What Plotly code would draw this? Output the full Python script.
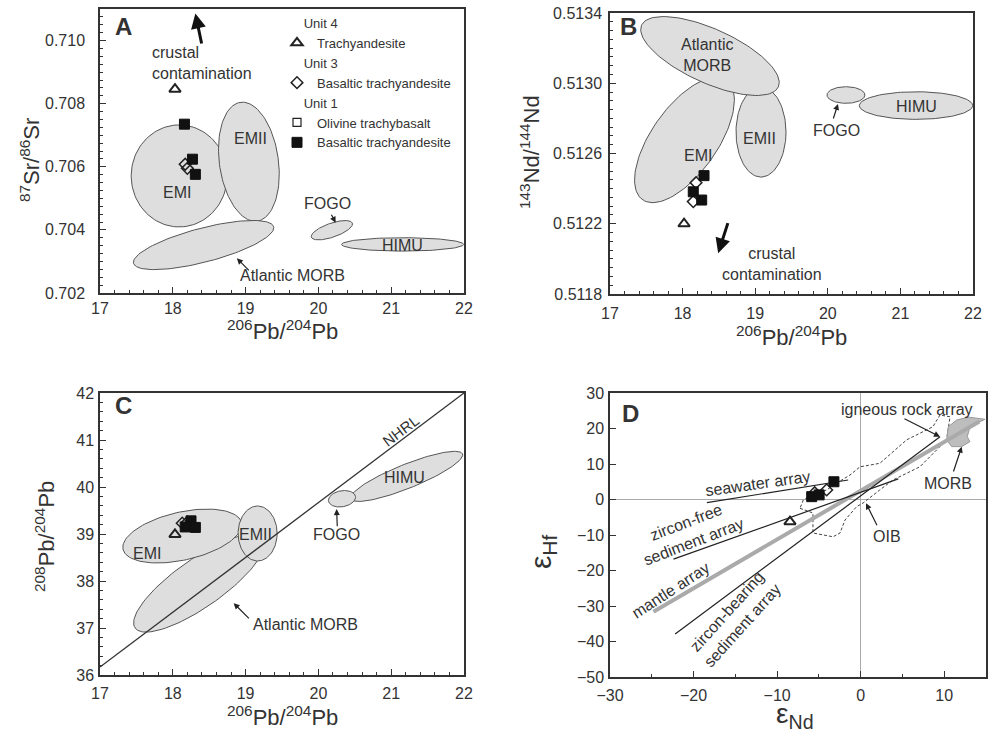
import numpy as np
import plotly.graph_objects as go

W, H = 993, 735
FONT = "Liberation Sans, Arial, sans-serif"
TXT = "#333333"
FILL = "#dedede"
EDGE = "#555555"

# ---------------- data ----------------
# Panel A: 87Sr/86Sr vs 206Pb/204Pb
a_tri_x = [18.03]
a_tri_y = [0.70846]
a_dia_x = [18.17, 18.20]
a_dia_y = [0.70608, 0.70595]
a_osq_x = [None]
a_osq_y = [None]
a_sq_x = [18.16, 18.27, 18.31]
a_sq_y = [0.70735, 0.70624, 0.70576]

# Panel B: 143Nd/144Nd vs 206Pb/204Pb
b_tri_x = [18.02]
b_tri_y = [0.51220]
b_dia_x = [18.185, 18.147]
b_dia_y = [0.512434, 0.512326]
b_sq_x = [18.295, 18.147, 18.263]
b_sq_y = [0.512474, 0.512382, 0.512335]

# Panel C: 208Pb/204Pb vs 206Pb/204Pb
c_tri_x = [18.03]
c_tri_y = [38.99]
c_dia_x = [18.13, 18.20]
c_dia_y = [39.23, 39.25]
c_sq_x = [18.25, 18.17, 18.31]
c_sq_y = [39.28, 39.15, 39.14]
nhrl_x = [17.0, 22.0]
nhrl_y = [36.17, 42.0]

# Panel D: eHf vs eNd
d_tri_x = [-8.46]
d_tri_y = [-6.25]
d_dia_x = [-4.07, -5.5]
d_dia_y = [2.7, 1.9]
d_sq_x = [-3.2, -5.86, -4.97]
d_sq_y = [5.0, 0.8, 1.3]
seawater_x = [-18.4, -1.5]
seawater_y = [-0.9, 5.5]
zfree_x = [-22.4, 4.5]
zfree_y = [-16.8, 5.8]
zbear_x = [-22.2, 9.5]
zbear_y = [-37.9, 17.7]
mantle_x = [-24.8, 14.2]
mantle_y = [-31.6, 22.0]
oib_x = [-7.26, -5.71, -5.71, -3.31, -2.47, -1.88, -0.48, 0.28, 2.28, 3.87, 7.1, 9.49, 10.3,
         10.7, 9.49, 8.65, 5.5, 2.3, -0.08, -1.28, -2.87, -4.07, -5.67, -6.87, -7.26]
oib_y = [-2.48, -3.8, -9.44, -10.5, -9.44, -5.8, -2.0, -1.0, 2.68, 5.5, 9.24, 14.9, 17.2,
         23.3, 23.8, 20.5, 16.8, 10.2, 9.2, 6.9, 4.6, 2.7, 1.27, -0.14, -2.48]
morb_x = [10.49, 11.49, 12.88, 14.28, 14.88, 13.08, 12.76, 13.08, 12.09, 10.89, 10.29, 10.49]
morb_y = [20.5, 22.4, 23.2, 22.9, 22.6, 20.5, 17.7, 16.3, 14.9, 14.9, 16.8, 20.5]

# Reference fields: centre (data), semi-axes (screen px), rotation (deg)
a_field_cx = [18.088, 19.045, 18.423, 20.185, 21.156]
a_field_cy = [0.70571, 0.70616, 0.70352, 0.70399, 0.70354]
a_field_rx = [48, 29.5, 72.4, 21.7, 61]
a_field_ry = [51, 60, 17, 7, 6.7]
a_field_rot = [0, 8, 14.6, 18.9, 0]

b_field_cx = [19.08, 18.026, 18.377, 20.25, 21.215]
b_field_cy = [0.512722, 0.512677, 0.513155, 0.512933, 0.512873]
b_field_rx = [25, 73, 75, 19, 56.7]
b_field_ry = [45, 33, 27, 8.3, 13.8]
b_field_rot = [0, 54.9, -24.3, 0, 0]

c_field_cx = [18.364, 18.13, 19.165, 21.212, 20.324]
c_field_cy = [37.957, 38.957, 39.011, 40.226, 39.75]
c_field_rx = [78.4, 60.7, 19.5, 60.2, 13.7]
c_field_ry = [24, 24, 27.5, 12, 8]
c_field_rot = [35, 12.7, 0, 21.9, 10]

# ---------------- layout geometry ----------------
P = {
    "A": dict(xp=(100, 464), yp=(9, 293), xr=[17, 22], yr=[0.702, 0.711], xa="x", ya="y"),
    "B": dict(xp=(610, 973), yp=(13, 294), xr=[17, 22], yr=[0.5118, 0.5134], xa="x2", ya="y2"),
    "C": dict(xp=(100, 464), yp=(393, 675), xr=[17, 22], yr=[36, 42], xa="x3", ya="y3"),
    "D": dict(xp=(610, 986), yp=(393, 677), xr=[-30, 15], yr=[-50, 30], xa="x4", ya="y4"),
}


def ppu(p):
    g = P[p]
    return ((g["xp"][1] - g["xp"][0]) / (g["xr"][1] - g["xr"][0]),
            (g["yp"][1] - g["yp"][0]) / (g["yr"][1] - g["yr"][0]))


def ellipse(p, cx, cy, rx, ry, rot):
    kx, ky = ppu(p)
    t = np.linspace(0, 2 * np.pi, 120)
    r = np.radians(rot)
    ex, ey = rx * np.cos(t), ry * np.sin(t)
    X = ex * np.cos(r) - ey * np.sin(r)
    Y = ex * np.sin(r) + ey * np.cos(r)
    return cx + X / kx, cy + Y / ky


fig = go.Figure()


def add_fields(p, cxs, cys, rxs, rys, rots):
    g = P[p]
    for cx, cy, rx, ry, rot in zip(cxs, cys, rxs, rys, rots):
        ex, ey = ellipse(p, cx, cy, rx, ry, rot)
        fig.add_trace(go.Scatter(x=ex, y=ey, mode="lines", fill="toself", fillcolor=FILL,
                                 line=dict(color=EDGE, width=1), hoverinfo="skip",
                                 showlegend=False, xaxis=g["xa"], yaxis=g["ya"]))


SP = "&nbsp;" * 6


def add_points(p, tx, ty, dx, dy, sx, sy, legend=False):
    g = P[p]
    fig.add_trace(go.Scatter(x=tx, y=ty, mode="markers", name="Trachyandesite",
                             marker=dict(symbol="triangle-up-open", size=10, color="#222",
                                         line=dict(width=2, color="#222")),
                             legendgroup="u4", legendgrouptitle_text=SP + "Unit 4",
                             showlegend=legend, xaxis=g["xa"], yaxis=g["ya"]))
    fig.add_trace(go.Scatter(x=dx, y=dy, mode="markers", name="Basaltic trachyandesite",
                             marker=dict(symbol="diamond-open", size=9, color="#222",
                                         line=dict(width=1.5, color="#222")),
                             legendgroup="u3", legendgrouptitle_text=SP + "Unit 3",
                             showlegend=legend, xaxis=g["xa"], yaxis=g["ya"]))
    if legend:
        fig.add_trace(go.Scatter(x=a_osq_x, y=a_osq_y, mode="markers", name="Olivine trachybasalt",
                                 marker=dict(symbol="square-open", size=8, color="#222",
                                             line=dict(width=1.2, color="#222")),
                                 legendgroup="u1", legendgrouptitle_text=SP + "Unit 1",
                                 showlegend=True, xaxis=g["xa"], yaxis=g["ya"]))
    fig.add_trace(go.Scatter(x=sx, y=sy, mode="markers", name="Basaltic trachyandesite",
                             marker=dict(symbol="square", size=10, color="#111",
                                         line=dict(width=1, color="#111")),
                             legendgroup="u1", legendgrouptitle_text=SP + "Unit 1", showlegend=legend,
                             xaxis=g["xa"], yaxis=g["ya"]))


# Panel A
add_fields("A", a_field_cx, a_field_cy, a_field_rx, a_field_ry, a_field_rot)
add_points("A", a_tri_x, a_tri_y, a_dia_x, a_dia_y, a_sq_x, a_sq_y, legend=True)
# Panel B
add_fields("B", b_field_cx, b_field_cy, b_field_rx, b_field_ry, b_field_rot)
add_points("B", b_tri_x, b_tri_y, b_dia_x, b_dia_y, b_sq_x, b_sq_y)
# Panel C
add_fields("C", c_field_cx, c_field_cy, c_field_rx, c_field_ry, c_field_rot)
fig.add_trace(go.Scatter(x=nhrl_x, y=nhrl_y, mode="lines", line=dict(color="#333", width=1.3),
                         hoverinfo="skip", showlegend=False, xaxis="x3", yaxis="y3"))
add_points("C", c_tri_x, c_tri_y, c_dia_x, c_dia_y, c_sq_x, c_sq_y)
# Panel D
fig.add_trace(go.Scatter(x=oib_x, y=oib_y, mode="lines", line=dict(color="#444", width=1, dash="3px,2px"),
                         hoverinfo="skip", showlegend=False, xaxis="x4", yaxis="y4"))
fig.add_trace(go.Scatter(x=morb_x, y=morb_y, mode="lines", fill="toself", fillcolor="#bdbdbd",
                         line=dict(color="#999", width=1), hoverinfo="skip", showlegend=False,
                         xaxis="x4", yaxis="y4"))
fig.add_trace(go.Scatter(x=mantle_x, y=mantle_y, mode="lines", line=dict(color="#aaaaaa", width=4),
                         hoverinfo="skip", showlegend=False, xaxis="x4", yaxis="y4"))
for lx, ly in [(seawater_x, seawater_y), (zfree_x, zfree_y), (zbear_x, zbear_y)]:
    fig.add_trace(go.Scatter(x=lx, y=ly, mode="lines", line=dict(color="#222", width=1.2),
                             hoverinfo="skip", showlegend=False, xaxis="x4", yaxis="y4"))
add_points("D", d_tri_x, d_tri_y, d_dia_x, d_dia_y, d_sq_x, d_sq_y)

# ---------------- axes ----------------
AX = dict(showline=True, linecolor="#333", linewidth=1.5, mirror=True, ticks="inside",
          ticklen=6, tickwidth=1.2, tickcolor="#333", showgrid=False, zeroline=False,
          automargin=False, tickfont=dict(size=16, color=TXT, family=FONT))


def xdom(p):
    return [P[p]["xp"][0] / W, P[p]["xp"][1] / W]


def ydom(p):
    return [1 - P[p]["yp"][1] / H, 1 - P[p]["yp"][0] / H]


lay = {}
spec = {
    "A": dict(xd=1, x0=17, xm=0.2, yd=0.002, y0=0.702, ym=0.00025, yf=".3f", ys=10, xs=0),
    "B": dict(xd=1, x0=17, xm=0.2, yd=0.0004, y0=0.5118, ym=0.00005, yf=".4f", ys=3, xs=4),
    "C": dict(xd=1, x0=17, xm=0.2, yd=1, y0=36, ym=0.2, yf="d", ys=1, xs=3),
    "D": dict(xd=10, x0=-30, xm=5, yd=10, y0=-50, ym=None, yf="d", ys=1, xs=3),
}
for i, p in enumerate("ABCD"):
    s = spec[p]
    suf = "" if i == 0 else str(i + 1)
    xa = dict(AX, domain=xdom(p), range=P[p]["xr"], anchor="y" + suf, dtick=s["xd"], tick0=s["x0"],
              ticklabelstandoff=s["xs"],
              minor=dict(dtick=s["xm"], ticks="inside", ticklen=3, tickcolor="#333", showgrid=False))
    ya = dict(AX, domain=ydom(p), range=P[p]["yr"], anchor="x" + suf, dtick=s["yd"], tick0=s["y0"],
              tickformat=s["yf"], ticklabelstandoff=s["ys"])
    if s["ym"]:
        ya["minor"] = dict(dtick=s["ym"], ticks="inside", ticklen=3, tickcolor="#333", showgrid=False)
    if p == "D":
        xa.update(zeroline=True, zerolinecolor="#aaa", zerolinewidth=1)
        ya.update(zeroline=True, zerolinecolor="#aaa", zerolinewidth=1)
    lay["xaxis" + suf] = xa
    lay["yaxis" + suf] = ya

# ---------------- annotations ----------------
ann = []


def txt(p, x, y, t, size=16, angle=0, align="center", xanchor="center", bold=False):
    g = P[p]
    ann.append(dict(x=x, y=y, xref=g["xa"], yref=g["ya"], text=("<b>%s</b>" % t) if bold else t,
                    showarrow=False, textangle=angle, align=align, xanchor=xanchor, yanchor="middle",
                    font=dict(size=size, color=TXT, family=FONT)))


def arrow(p, x, y, ax, ay, width=1.2, head=2, size=1.0, color="#222"):
    g = P[p]
    ann.append(dict(x=x, y=y, ax=ax, ay=ay, xref=g["xa"], yref=g["ya"], axref=g["xa"], ayref=g["ya"],
                    text="", showarrow=True, arrowhead=head, arrowwidth=width, arrowsize=size,
                    arrowcolor=color))


def ptxt(px, py, t, size=22, angle=0):
    ann.append(dict(x=px / W, y=1 - py / H, xref="paper", yref="paper", text=t, showarrow=False,
                    xanchor="center", yanchor="middle",
                    textangle=angle, font=dict(size=size, color=TXT, family=FONT)))


# Panel A
txt("A", 17.32, 0.71043, "A", size=24, bold=True)
txt("A", 17.69, 0.70930, "crustal<br>contamination", align="left", xanchor="left")
arrow("A", 18.31, 0.71086, 18.40, 0.70986, width=3, head=2, size=1.0, color="#111")
txt("A", 18.056, 0.70517, "EMI")
txt("A", 19.066, 0.70691, "EMII")
txt("A", 20.123, 0.70484, "FOGO")
arrow("A", 20.237, 0.70423, 20.168, 0.70453)
txt("A", 21.154, 0.70350, "HIMU")
txt("A", 19.64, 0.70254, "Atlantic MORB")
arrow("A", 18.88, 0.70310, 19.066, 0.70267)
# Panel B
txt("B", 17.25, 0.513322, "B", size=24, bold=True)
txt("B", 18.33, 0.513161, "Atlantic<br>MORB")
txt("B", 18.216, 0.512591, "EMI")
txt("B", 19.066, 0.512688, "EMII")
txt("B", 20.123, 0.51273, "FOGO")
arrow("B", 20.14, 0.512882, 20.07, 0.512791)
txt("B", 21.224, 0.51287, "HIMU")
txt("B", 19.227, 0.511969, "crustal<br>contamination")
arrow("B", 18.49, 0.512032, 18.63, 0.512212, width=3, head=2, size=1.0, color="#111")
# Panel C
txt("C", 17.32, 41.74, "C", size=24, bold=True)
txt("C", 21.13, 41.21, "NHRL", size=15, angle=-37)
txt("C", 17.643, 38.578, "EMI")
txt("C", 19.135, 38.994, "EMII")
txt("C", 20.25, 38.994, "FOGO")
arrow("C", 20.25, 39.53, 20.26, 39.135)
txt("C", 21.18, 40.207, "HIMU")
txt("C", 19.824, 37.065, "Atlantic MORB")
arrow("C", 18.836, 37.528, 19.066, 37.172)
# Panel D
txt("D", -27.6, 24.3, "D", size=24, bold=True)
txt("D", -12.25, 4.37, "seawater array", angle=-8)
txt("D", -20.4, -9.2, "zircon-free<br>sediment array", angle=-21)
txt("D", -22.8, -25.5, "mantle array", angle=-33)
txt("D", -15.0, -33.5, "zircon-bearing<br>sediment array", angle=-48)
txt("D", 5.5, 25.4, "igneous rock array")
arrow("D", 9.49, 17.7, 5.06, 22.96)
txt("D", 10.49, 4.56, "MORB")
arrow("D", 12.09, 14.87, 11.05, 7.46)
txt("D", 3.1, -10.5, "OIB")
arrow("D", 0.64, -1.07, 2.04, -7.66)

# axis titles
ptxt(30, 160, "<sup>87</sup>Sr/<sup>86</sup>Sr", angle=-90)
ptxt(282, 330, "<sup>206</sup>Pb/<sup>204</sup>Pb")
ptxt(530, 152, "<sup>143</sup>Nd/<sup>144</sup>Nd", angle=-90)
ptxt(791, 336, "<sup>206</sup>Pb/<sup>204</sup>Pb")
ptxt(45, 537, "<sup>208</sup>Pb/<sup>204</sup>Pb", angle=-90)
ptxt(282, 716, "<sup>206</sup>Pb/<sup>204</sup>Pb")
ptxt(542, 552, "ε<sub>Hf</sub>", size=30, angle=-90)
ptxt(795, 715, "ε<sub>Nd</sub>", size=28)

fig.update_layout(
    width=W, height=H, margin=dict(l=0, r=0, t=0, b=0, autoexpand=False),
    paper_bgcolor="white", plot_bgcolor="white",
    font=dict(family=FONT, color=TXT),
    annotations=ann,
    showlegend=True,
    legend=dict(x=277 / W, y=1 - 8 / H, xanchor="left", yanchor="top", bgcolor="rgba(0,0,0,0)",
                font=dict(size=13, color=TXT, family=FONT), tracegroupgap=0, itemwidth=30,
                grouptitlefont=dict(size=13, color=TXT, family=FONT), traceorder="grouped"),
    **lay,
)

fig.write_html("out.html", config={"displayModeBar": False},
               post_script="document.body.style.margin='0px';document.body.style.padding='0px';")
